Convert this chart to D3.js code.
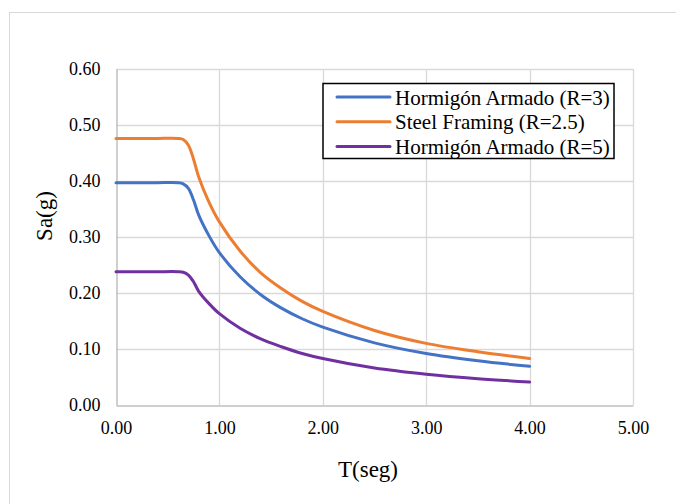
<!DOCTYPE html>
<html>
<head>
<meta charset="utf-8">
<script src="https://cdn.jsdelivr.net/npm/d3@7"></script>
<style>
  body { margin: 0; background: #fff; }
  svg text { font-family: 'Liberation Serif', 'Times New Roman', Times, serif; }
</style>
</head>
<body>
<div id="chart"></div>
<script>
// periods (s) and spectral accelerations
var periods = [0, 0.2, 0.4, 0.6, 0.65, 0.7, 0.75, 0.8, 0.9, 1.0, 1.2, 1.4, 1.6, 1.8, 2.0, 2.5, 3.0, 3.5, 4.0];
var haR3 = [0.397, 0.397, 0.397, 0.397, 0.395, 0.387, 0.366, 0.339, 0.302, 0.272,
            0.229, 0.197, 0.173, 0.154, 0.139, 0.111, 0.092, 0.079, 0.069];
var steelR25 = [0.476, 0.476, 0.476, 0.476, 0.474, 0.464, 0.439, 0.407, 0.362, 0.327,
                0.275, 0.236, 0.208, 0.185, 0.167, 0.133, 0.110, 0.095, 0.083];
var haR5 = [0.238, 0.238, 0.238, 0.238, 0.237, 0.232, 0.220, 0.203, 0.181, 0.163,
            0.137, 0.118, 0.104, 0.092, 0.083, 0.066, 0.055, 0.047, 0.041];
var seriesNames = ["Hormigón Armado (R=3)", "Steel Framing (R=2.5)", "Hormigón Armado (R=5)"];
var seriesColors = ["#4472C4", "#ED7D31", "#7030A0"];
var xTicks = [0, 1, 2, 3, 4, 5];
var yTicks = [0, 0.1, 0.2, 0.3, 0.4, 0.5, 0.6];

var width = 676, height = 504;
var margin = {left: 116, right: 43, top: 69, bottom: 99};

var svg = d3.select("#chart").append("svg")
    .attr("width", width)
    .attr("height", height);

// chart frame
svg.append("rect")
    .attr("x", 9.5).attr("y", 12.5)
    .attr("width", width).attr("height", height)
    .attr("fill", "none")
    .attr("stroke", "#d9d9d9");

var x = d3.scaleLinear().domain([0, 5]).range([margin.left, width - margin.right]);
var y = d3.scaleLinear().domain([0, 0.6]).range([height - margin.bottom, margin.top]);

//grid
svg.append("g").selectAll("line").data(yTicks.slice(1)).enter().append("line")
    .attr("x1", x(0)).attr("x2", x(5))
    .attr("y1", function (d) { return Math.round(y(d)) + 0.5; })
    .attr("y2", function (d) { return Math.round(y(d)) + 0.5; })
    .attr("stroke", "#d9d9d9").attr("stroke-width", 1.3);
svg.append("g").selectAll("line").data(xTicks.slice(1)).enter().append("line")
    .attr("y1", y(0)).attr("y2", y(0.6))
    .attr("x1", function (d) { return Math.round(x(d)) + 0.5; })
    .attr("x2", function (d) { return Math.round(x(d)) + 0.5; })
    .attr("stroke", "#d9d9d9").attr("stroke-width", 1.3);

// axes
var xAxis = svg.append("g")
    .attr("transform", "translate(0," + (Math.round(y(0)) + 0.5) + ")")
    .call(d3.axisBottom(x).tickValues(xTicks).tickSize(0).tickPadding(16).tickFormat(d3.format(".2f")));
var yAxis = svg.append("g")
    .attr("transform", "translate(" + (Math.round(x(0)) + 0.5) + ",0)")
    .call(d3.axisLeft(y).tickValues(yTicks).tickSize(0).tickPadding(16).tickFormat(d3.format(".2f")));
[xAxis, yAxis].forEach(function (a) {
    a.attr("font-family", null);
    a.select(".domain").attr("stroke", "#bfbfbf").attr("stroke-width", 1.5);
    a.selectAll("text").attr("font-size", 18).attr("fill", "#000");
});
yAxis.selectAll("text").attr("dy", "0.3em");

// axis titles
svg.append("text").text("T(seg)")
    .attr("x", 368).attr("y", 477)
    .attr("text-anchor", "middle").attr("font-size", 23);
svg.append("text").text("Sa(g)")
    .attr("transform", "translate(52,216) rotate(-90)")
    .attr("text-anchor", "middle").attr("font-size", 23);

// curves
var series = [haR3, steelR25, haR5];
var line = d3.line()
    .x(function (d) { return x(d[0]); })
    .y(function (d) { return y(d[1]); })
    .curve(d3.curveCatmullRom.alpha(0.5));
series.forEach(function (vals, i) {
    svg.append("path")
        .datum(periods.map(function (t, k) { return [t, vals[k]]; }))
        .attr("d", line)
        .attr("fill", "none")
        .attr("stroke", seriesColors[i])
        .attr("stroke-width", 3)
        .attr("stroke-linecap", "round")
        .attr("stroke-linejoin", "round");
});

// legend
var legend = svg.append("g").attr("transform", "translate(323,83)");
legend.append("rect")
    .attr("x", 0).attr("y", 0.5)
    .attr("width", 291).attr("height", 75)
    .attr("fill", "#fff")
    .attr("stroke", "#000").attr("stroke-width", 1.5);
seriesNames.forEach(function (name, i) {
    var ly = 14 + i * 24.7;
    legend.append("line")
        .attr("x1", 14).attr("x2", 67)
        .attr("y1", ly).attr("y2", ly)
        .attr("stroke", seriesColors[i]).attr("stroke-width", 3)
        .attr("stroke-linecap", "round");
    legend.append("text").text(name)
        .attr("x", 72).attr("y", ly + 7.5)
        .attr("font-size", 21);
});
</script>
</body>
</html>
